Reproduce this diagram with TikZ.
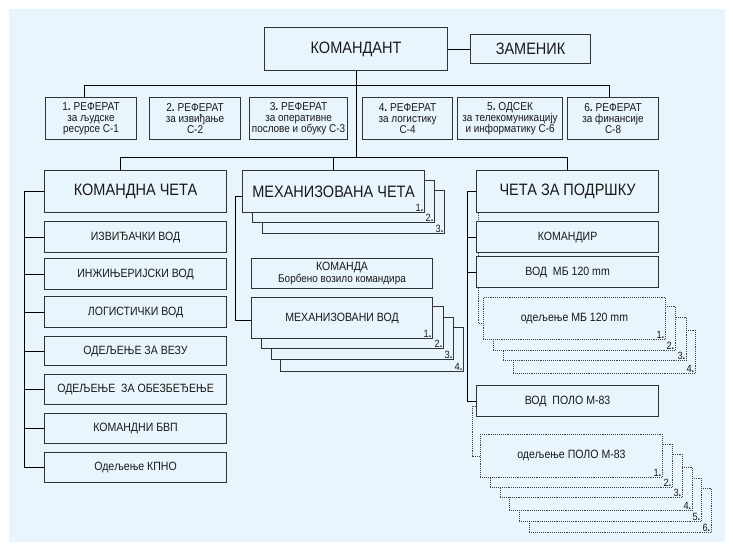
\documentclass[tikz,border=0pt]{standalone}
\usepackage{fontspec}
\setmainfont{Liberation Sans}[FakeStretch=0.88]
\definecolor{bg}{HTML}{E9F5FC}
\definecolor{ln}{HTML}{333333}
\newcommand\mybox[7]{\node[#2,anchor=north west,minimum width={(#5)-(#3)},minimum height={(#6)-(#4)}] (#1) at (#3,#4) {#7};}
\newcommand\fs[1]{\fontsize{#1}{#1}\selectfont}
\newcommand\dt{\textbf{.}}
\tikzset{
  box/.style={draw=ln,line width=1.1pt,fill=bg,inner sep=0pt,align=center,text=black!90},
  dbox/.style={draw=black!75,densely dotted,line width=0.9pt,fill=bg,inner sep=0pt,align=center,text=black!90},
  big/.style={font=\fs{16.5}},
  med/.style={font=\fs{12}},
  refs/.style={font=\fontsize{11.3}{11.3}\selectfont},
  lbl/.style={font=\fs{10.5},inner sep=1.5pt,anchor=south east,text=black!90},
  conn/.style={line width=0.9pt,draw=black},
  dconn/.style={densely dotted,line width=0.9pt,draw=black!75}
}
\begin{document}
\begin{tikzpicture}[x=1pt,y=-1pt]
\useasboundingbox (0,0) rectangle (733,551);
\fill[bg] (9,9) rectangle (725,542);
% top
\mybox{kom}{box,big}{264}{27}{447}{70}{КОМАНДАНТ}
\mybox{zam}{box,big}{470}{34}{590}{63}{ЗАМЕНИК}
% referats
\mybox{r1}{box,refs}{45}{97}{136}{139}{{\fs{11.5}1\dt\ РЕФЕРАТ}\\за људске\\ресурсе С-1}
\mybox{r2}{box,refs}{149}{97}{240}{139}{{\fs{11.5}2\dt\ РЕФЕРАТ}\\за извиђање\\С-2}
\mybox{r3}{box,refs}{249}{97}{347}{139}{{\fs{11.5}3\dt\ РЕФЕРАТ}\\за оперативне\\послове и обуку С-3}
\mybox{r4}{box,refs}{362}{97}{452}{139}{{\fs{11.5}4\dt\ РЕФЕРАТ}\\за логистику\\С-4}
\mybox{r5}{box,refs}{457}{97}{562}{139}{{\fs{11.5}5\dt\ ОДСЕК}\\за телекомуникацију\\и информатику С-6}
\mybox{r6}{box,refs}{567}{97}{658}{139}{{\fs{11.5}6\dt\ РЕФЕРАТ}\\за финансије\\С-8}
% left column
\mybox{kc}{box,big}{44}{170}{226}{212}{КОМАНДНА ЧЕТА}
\mybox{k1}{box,med}{44}{221}{226}{252}{ИЗВИЂАЧКИ ВОД}
\mybox{k2}{box,med}{44}{258}{226}{289}{ИНЖИЊЕРИЈСКИ ВОД}
\mybox{k3}{box,med}{44}{296}{226}{327}{ЛОГИСТИЧКИ ВОД}
\mybox{k4}{box,med}{44}{336}{226}{365}{ОДЕЉЕЊЕ ЗА ВЕЗУ}
\mybox{k5}{box,med}{44}{374}{226}{404}{ОДЕЉЕЊЕ\ \ ЗА ОБЕЗБЕЂЕЊЕ}
\mybox{k6}{box,med}{44}{413}{226}{443}{КОМАНДНИ БВП}
\mybox{k7}{box,med}{44}{452}{226}{482}{Одељење КПНО}
% middle column
\mybox{mc3}{box}{262}{190}{444}{233}{}
\node[lbl] (mc3l) at (mc3.south east) {3\dt};
\mybox{mc2}{box}{252}{180}{434}{222}{}
\node[lbl] (mc2l) at (mc2.south east) {2\dt};
\mybox{mc}{box,big}{242}{170}{424}{212}{МЕХАНИЗОВАНА ЧЕТА}
\node[lbl] (mc1l) at (mc.south east) {1\dt};
\mybox{mk}{box,refs}{251}{258}{432}{288}{{\fs{12}КОМАНДА}\\Борбено возило командира}
\mybox{mv4}{box}{280}{327}{463}{371}{}
\node[lbl] (mv4l) at (mv4.south east) {4\dt};
\mybox{mv3}{box}{271}{317}{453}{359}{}
\node[lbl] (mv3l) at (mv3.south east) {3\dt};
\mybox{mv2}{box}{261}{306}{443}{348}{}
\node[lbl] (mv2l) at (mv2.south east) {2\dt};
\mybox{mv}{box,med}{251}{297}{432}{338}{МЕХАНИЗОВАНИ ВОД}
\node[lbl] (mv1l) at (mv.south east) {1\dt};
% right column
\mybox{sc}{box,big}{476}{170}{658}{212}{ЧЕТА ЗА ПОДРШКУ}
\mybox{kmd}{box,med}{476}{221}{658}{252}{КОМАНДИР}
\mybox{vmb}{box,med}{476}{256}{658}{287}{ВОД\ \ МБ 120 mm}
\mybox{mb4}{dbox}{513}{330}{695}{373}{}
\node[lbl] (mb4l) at (mb4.south east) {4\dt};
\mybox{mb3}{dbox}{503}{317}{686}{360}{}
\node[lbl] (mb3l) at (mb3.south east) {3\dt};
\mybox{mb2}{dbox}{493}{306}{675}{350}{}
\node[lbl] (mb2l) at (mb2.south east) {2\dt};
\mybox{mb}{dbox,med}{483}{297}{665}{339}{одељење МБ 120 mm}
\node[lbl] (mb1l) at (mb.south east) {1\dt};
\mybox{vp}{box,med}{476}{385}{658}{416}{ВОД\ \ ПОЛО М-83}
\mybox{pl6}{dbox}{529}{488}{711}{532}{}
\node[lbl] (pl6l) at (pl6.south east) {6\dt};
\mybox{pl5}{dbox}{519}{478}{701}{521}{}
\node[lbl] (pl5l) at (pl5.south east) {5\dt};
\mybox{pl4}{dbox}{509}{467}{692}{510}{}
\node[lbl] (pl4l) at (pl4.south east) {4\dt};
\mybox{pl3}{dbox}{500}{454}{682}{497}{}
\node[lbl] (pl3l) at (pl3.south east) {3\dt};
\mybox{pl2}{dbox}{490}{444}{672}{487}{}
\node[lbl] (pl2l) at (pl2.south east) {2\dt};
\mybox{pl}{dbox,med}{480}{434}{662}{477}{одељење ПОЛО М-83}
\node[lbl] (pl1l) at (pl.south east) {1\dt};
% coordinates
\coordinate (busA) at (0,85);
\coordinate (busB) at (0,157);
\coordinate (ls) at (24,0);
\coordinate (ms) at (235,0);
\coordinate (rs) at (467,0);
\coordinate (pd) at (472,0);
% connectors
\draw[conn] (kom.east) -- (zam.west);
\draw[conn] (kom.south) -- (kom.south |- busB);
\draw[conn] ([xshift=-7pt]r1.north) -- ([xshift=-7pt]r1.north |- busA) -| ([xshift=-4pt]r6.north);
\draw[conn] ([xshift=-15pt]kc.north) -- ([xshift=-15pt]kc.north |- busB) -| (sc.north);
\draw[conn] (mc.north) -- (mc.north |- busB);
% left spine
\draw[conn] (kc.west -| ls) -- (k7.west -| ls);
\foreach \n in {kc,k1,k2,k3,k4,k5,k6,k7} \draw[conn] (\n.west) -- (\n.west -| ls);
% middle spine
\draw[conn] ([yshift=-5pt]mc.west) -- ([yshift=-5pt]mc.west -| ms) |- ([yshift=-2pt]mv.west);
% right spine
\draw[conn] (sc.west -| rs) -- (vp.west -| rs);
\foreach \n in {sc,kmd,vmb,vp} \draw[conn] (\n.west) -- (\n.west -| rs);
% dotted
\draw[dconn] ([xshift=2pt]sc.south west) -- ([xshift=2pt]kmd.north west);
\draw[dconn] ([xshift=2pt]kmd.south west) -- ([xshift=2pt]vmb.north west);
\draw[dconn] ([xshift=2pt]vmb.south west) |- ([yshift=-5pt]mb.west);
\draw[dconn] ([yshift=-5pt]vp.west) -| (pd |- pl.west) -- (pl.west);
\end{tikzpicture}
\end{document}
